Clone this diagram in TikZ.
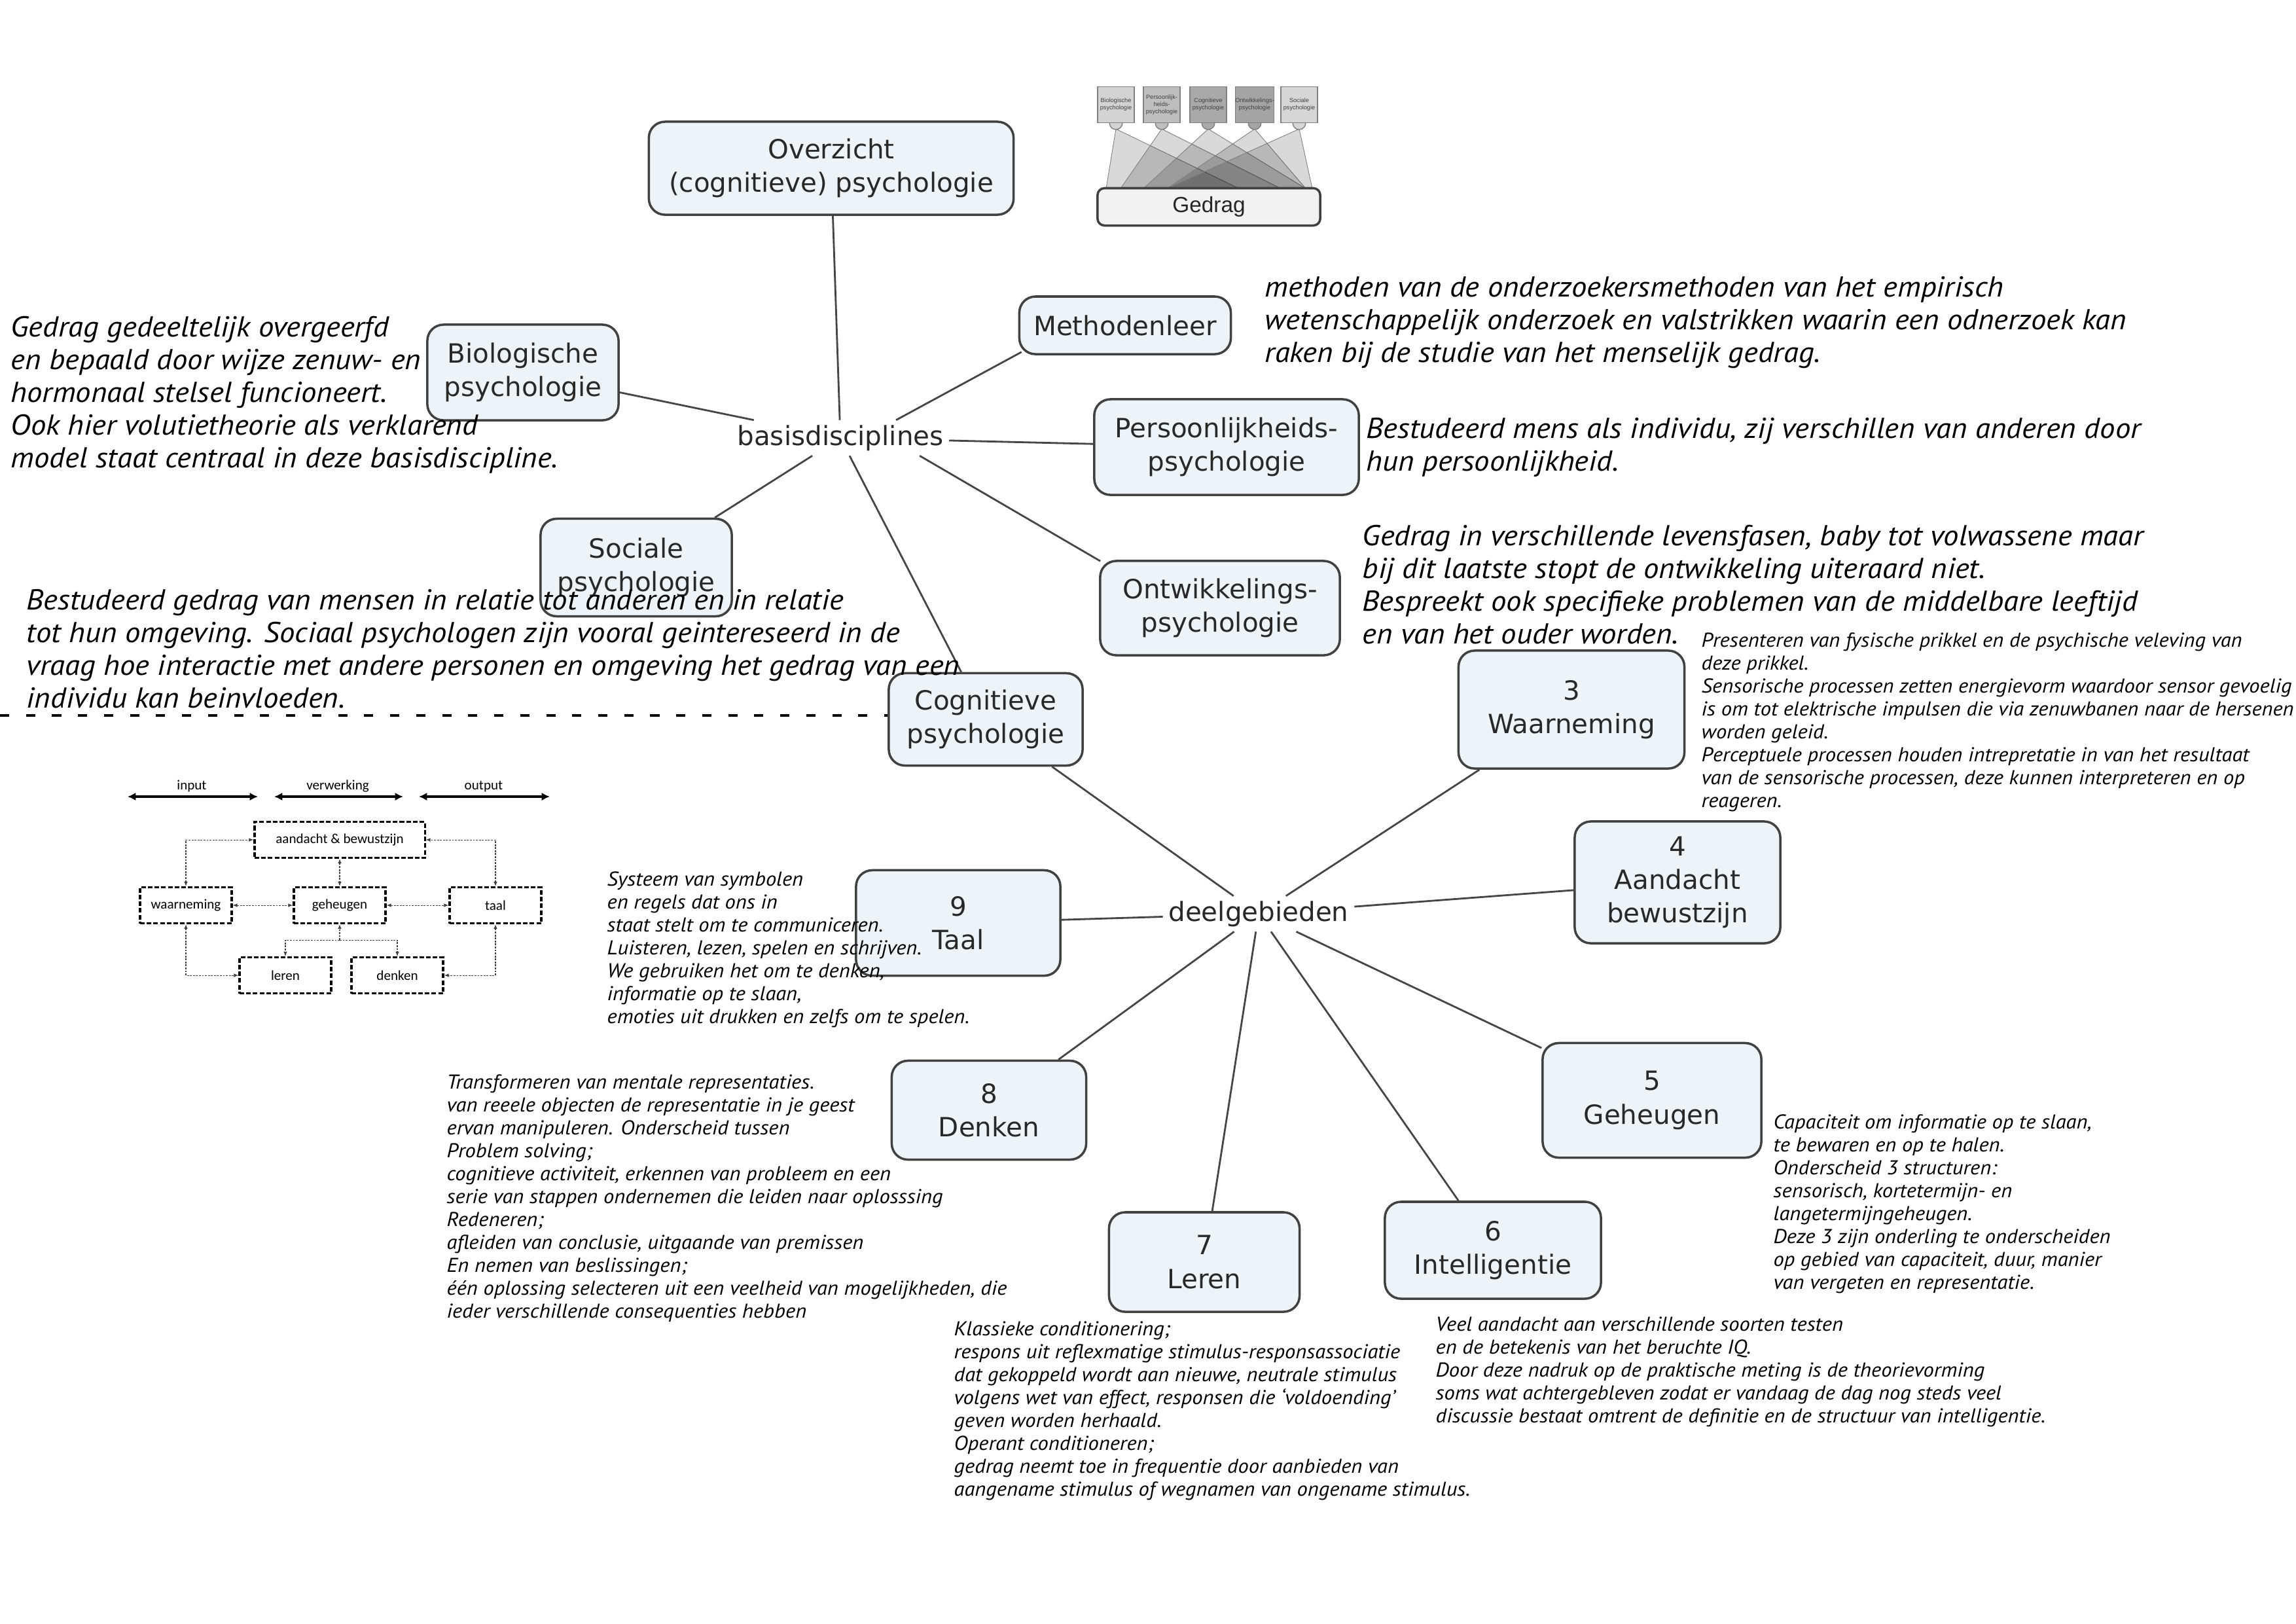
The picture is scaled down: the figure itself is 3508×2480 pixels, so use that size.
\documentclass[tikz,border=0pt]{standalone}
\usepackage{fontspec}
\setmainfont{DejaVu Sans}
\newfontfamily\annot{PT Sans}[FakeStretch=1.065]
\newfontfamily\arialf{Liberation Sans}
\newfontfamily\calib{Carlito}
\usetikzlibrary{arrows.meta}
\definecolor{boxfill}{RGB}{237,243,246}
\definecolor{boxline}{RGB}{65,65,65}
\definecolor{boxtext}{RGB}{40,40,40}
\definecolor{connc}{RGB}{70,70,70}
\definecolor{ga}{RGB}{211,211,211}
\definecolor{gb}{RGB}{190,190,190}
\definecolor{gc}{RGB}{169,169,169}
\definecolor{gd}{RGB}{164,164,164}
\definecolor{ge}{RGB}{214,214,214}
\begin{document}
\begin{tikzpicture}[x=0.01cm,y=-0.01cm,
  mbox/.style={draw=boxline, line width=1pt, fill=boxfill, rounded corners=7pt, align=center, text=boxtext, font=\fontsize{11.5}{14.6}\selectfont, inner sep=0pt},
  lbl/.style={text=boxtext, font=\fontsize{11.5}{14.6}\selectfont, inner xsep=0.08cm, inner ysep=0.07cm},
  cline/.style={draw=connc, line width=0.8pt},
  bigtxt/.style={anchor=base west, align=left, inner sep=0pt, font=\annot\itshape\fontsize{12.5}{14.2}\selectfont},
  smalltxt/.style={anchor=base west, align=left, inner sep=0pt, font=\annot\itshape\fontsize{8.7}{9.93}\selectfont},
  tbox/.style={draw=black!50, line width=0.4pt, minimum width=0.56cm, minimum height=0.55cm, align=center, inner sep=0pt, text=black!75, font=\arialf\fontsize{2.6}{3.1}\selectfont},
  beam/.style={fill=black, fill opacity=0.15, draw=black!50, line width=0.25pt},
  dbox/.style={draw=black, line width=0.9pt, dash pattern=on 2pt off 0.9pt, minimum width=1.40cm, minimum height=0.55cm, inner sep=0pt, font=\calib\fontsize{6}{7}\selectfont},
  farrow/.style={draw=black!75, line width=0.3pt, dash pattern=on 0.8pt off 0.5pt, {Latex[length=2pt,width=1.6pt]}-{Latex[length=2pt,width=1.6pt]}},
  sarrow/.style={draw=black!75, line width=0.3pt, dash pattern=on 0.8pt off 0.5pt, -{Latex[length=2pt,width=1.6pt]}},
  thickarrow/.style={draw=black, line width=1.1pt, {Latex[length=3.5pt,width=3.5pt]}-{Latex[length=3.5pt,width=3.5pt]}},
  toplbl/.style={font=\calib\fontsize{6}{7}\selectfont, inner sep=0pt}
]
\fill[white] (0,0) rectangle (3508,2480);
\useasboundingbox (0,0) rectangle (3508,2480);

% ---------- Gedrag figure (top) ----------
\filldraw[beam] (1705,197) -- (1690,288) -- (1893,288) -- cycle;
\filldraw[beam] (1775,197) -- (1712,288) -- (1957,288) -- cycle;
\filldraw[beam] (1846,197) -- (1747,288) -- (1995,288) -- cycle;
\filldraw[beam] (1917,197) -- (1783,288) -- (1995,288) -- cycle;
\filldraw[beam] (1985,197) -- (1783,288) -- (2005,288) -- cycle;
\filldraw[fill=ga, draw=black!50, line width=0.4pt] (1705,188) circle[radius=2.8pt];
\filldraw[fill=gb, draw=black!50, line width=0.4pt] (1775,188) circle[radius=2.8pt];
\filldraw[fill=gc, draw=black!50, line width=0.4pt] (1846,188) circle[radius=2.8pt];
\filldraw[fill=gd, draw=black!50, line width=0.4pt] (1917,188) circle[radius=2.8pt];
\filldraw[fill=ge, draw=black!50, line width=0.4pt] (1985,188) circle[radius=2.8pt];
\node[tbox, fill=ga] (tb1) at (1705,160) {Biologische\\psychologie};
\node[tbox, fill=gb] (tb2) at (1775,160) {Persoonlijk-\\heids-\\psychologie};
\node[tbox, fill=gc] (tb3) at (1846,160) {Cognitieve\\psychologie};
\node[tbox, fill=gd] (tb4) at (1917,160) {Ontwikkelings-\\psychologie};
\node[tbox, fill=ge] (tb5) at (1985,160) {Sociale\\psychologie};
\node[draw=black!75, line width=1pt, fill=black!5, rounded corners=3pt, minimum width=3.40cm, minimum height=0.57cm, inner sep=0pt, font=\arialf\fontsize{9.5}{11}\selectfont, text=black!85] (gedrag) at (1847,316) {Gedrag};

% ---------- main boxes ----------
\node[mbox, minimum width=5.57cm, minimum height=1.42cm] (ov) at (1270,257) {Overzicht\\(cognitieve) psychologie};
\node[mbox, minimum width=3.23cm, minimum height=0.88cm] (meth) at (1719,497) {Methodenleer};
\node[mbox, minimum width=2.92cm, minimum height=1.46cm] (bio) at (799,569) {Biologische\\psychologie};
\node[mbox, minimum width=4.04cm, minimum height=1.46cm] (pers) at (1874,683) {Persoonlijkheids-\\psychologie};
\node[mbox, minimum width=2.92cm, minimum height=1.49cm] (soc) at (972,867) {Sociale\\psychologie};
\node[mbox, minimum width=3.66cm, minimum height=1.44cm] (ontw) at (1864,929) {Ontwikkelings-\\psychologie};
\node[mbox, minimum width=2.96cm, minimum height=1.41cm] (cog) at (1506,1099) {Cognitieve\\psychologie};
\node[mbox, minimum width=3.45cm, minimum height=1.80cm] (waar) at (2401,1084) {3\\Waarneming};
\node[mbox, minimum width=3.14cm, minimum height=1.86cm] (aand) at (2563,1348) {4\\Aandacht\\bewustzijn};
\node[mbox, minimum width=3.12cm, minimum height=1.61cm] (taal) at (1464,1410) {9\\Taal};
\node[mbox, minimum width=2.97cm, minimum height=1.51cm] (denk) at (1511,1696) {8\\Denken};
\node[mbox, minimum width=3.34cm, minimum height=1.75cm] (geh) at (2524,1681) {5\\Geheugen};
\node[mbox, minimum width=2.91cm, minimum height=1.52cm] (leren) at (1840,1928) {7\\Leren};
\node[mbox, minimum width=3.30cm, minimum height=1.48cm] (intel) at (2281,1910) {6\\Intelligentie};

\node[lbl] (bas) at (1284,669) {basisdisciplines};
\node[lbl] (deel) at (1923,1396) {deelgebieden};

% ---------- connectors ----------
\draw[cline] (ov) -- (bas);
\draw[cline] (bio) -- (bas);
\draw[cline] ([xshift=0.85cm]bas.north) -- ([xshift=0.05cm,yshift=0.05cm]meth.south west);
\draw[cline] (pers) -- (bas);
\draw[cline] ([xshift=-0.45cm]bas.south east) -- ([xshift=0.02cm,yshift=-0.02cm]ontw.north west);
\draw[cline] (soc) -- (bas);
\draw[cline] (cog) -- (bas);
\draw[cline] (cog) -- (deel);
\draw[cline] (waar) -- (deel);
\draw[cline] (aand) -- (deel);
\draw[cline] (taal) -- (deel);
\draw[cline] (denk) -- (deel);
\draw[cline] (leren) -- (deel);
\draw[cline] (intel) -- (deel);
\draw[cline] (geh) -- (deel);

\coordinate (dl) at (0,1093);
\draw[black, line width=1.4pt, dash pattern=on 4pt off 7.3pt] (dl) -- (dl -| cog.west);

% ---------- bottom-left figure ----------
\coordinate (i1) at (195,1217); \coordinate (i2) at (394,1217);
\coordinate (v1) at (419,1217); \coordinate (v2) at (616,1217);
\coordinate (o1) at (640,1217); \coordinate (o2) at (840,1217);
\draw[thickarrow] (i1) -- (i2);
\draw[thickarrow] (v1) -- (v2);
\draw[thickarrow] (o1) -- (o2);
\node[toplbl] (linput) at (293,1201) {input};
\node[toplbl] (lverw) at (516,1201) {verwerking};
\node[toplbl] (loutput) at (739,1201) {output};

\node[dbox, minimum width=2.60cm] (fa) at (519,1283) {aandacht \& bewustzijn};
\node[dbox] (fw) at (284,1383) {waarneming};
\node[dbox] (fg) at (519,1383) {geheugen};
\node[dbox] (ft) at (757,1383) {taal};
\node[dbox] (fl) at (436,1490) {leren};
\node[dbox] (fd) at (607,1490) {denken};
\draw[farrow] (fw.north) |- (fa.west);
\draw[farrow] (ft.north) |- (fa.east);
\draw[farrow] (fa.south) -- (fg.north);
\draw[farrow] (fw.east) -- (fg.west);
\draw[farrow] (fg.east) -- (ft.west);
\draw[farrow] (fw.south) |- (fl.west);
\draw[farrow] (ft.south) |- (fd.east);
\coordinate (fj) at (519,1436);
\draw[sarrow] (fj) -- (fg.south);
\draw[sarrow] (fj) -| (fl.north);
\draw[sarrow] (fj) -| (fd.north);

% ---------- annotation texts (anchored at the baseline of the last line) ----------
\node[bigtxt] (tbio) at (16,714) {Gedrag gedeeltelijk overgeerfd\\en bepaald door wijze zenuw- en\\hormonaal stelsel funcioneert.\\Ook hier volutietheorie als verklarend\\model staat centraal in deze basisdiscipline.};
\node[bigtxt] (tmeth) at (1932,553) {methoden van de onderzoekersmethoden van het empirisch\\wetenschappelijk onderzoek en valstrikken waarin een odnerzoek kan\\raken bij de studie van het menselijk gedrag.};
\node[bigtxt] (tpers) at (2087,719) {Bestudeerd mens als individu, zij verschillen van anderen door\\hun persoonlijkheid.};
\node[bigtxt] (tontw) at (2081,983) {Gedrag in verschillende levensfasen, baby tot volwassene maar\\bij dit laatste stopt de ontwikkeling uiteraard niet.\\Bespreekt ook specifieke problemen van de middelbare leeftijd\\en van het ouder worden.};
\node[bigtxt] (tsoc) at (40,1081) {Bestudeerd gedrag van mensen in relatie tot anderen en in relatie\\tot hun omgeving. Sociaal psychologen zijn vooral geintereseerd in de\\vraag hoe interactie met andere personen en omgeving het gedrag van een\\individu kan beinvloeden.};

\node[smalltxt] (twaar) at (2599,1233) {Presenteren van fysische prikkel en de psychische veleving van\\deze prikkel.\\Sensorische processen zetten energievorm waardoor sensor gevoelig\\is om tot elektrische impulsen die via zenuwbanen naar de hersenen\\worden geleid.\\Perceptuele processen houden intrepretatie in van het resultaat\\van de sensorische processen, deze kunnen interpreteren en op\\reageren.};
\node[smalltxt] (ttaal) at (927,1563) {Systeem van symbolen\\en regels dat ons in\\staat stelt om te communiceren.\\Luisteren, lezen, spelen en schrijven.\\We gebruiken het om te denken,\\informatie op te slaan,\\emoties uit drukken en zelfs om te spelen.};
\node[smalltxt] (tdenk) at (682,2013) {Transformeren van mentale representaties.\\van reeele objecten de representatie in je geest\\ervan manipuleren. Onderscheid tussen\\Problem solving;\\cognitieve activiteit, erkennen van probleem en een\\serie van stappen ondernemen die leiden naar oplosssing\\Redeneren;\\afleiden van conclusie, uitgaande van premissen\\En nemen van beslissingen;\\één oplossing selecteren uit een veelheid van mogelijkheden, die\\ieder verschillende consequenties hebben};
\node[smalltxt] (tleren) at (1457,2285) {Klassieke conditionering;\\respons uit reflexmatige stimulus-responsassociatie\\dat gekoppeld wordt aan nieuwe, neutrale stimulus\\volgens wet van effect, responsen die ‘voldoending’\\geven worden herhaald.\\Operant conditioneren;\\gedrag neemt toe in frequentie door aanbieden van\\aangename stimulus of wegnamen van ongename stimulus.};
\node[smalltxt] (tintel) at (2193,2173) {Veel aandacht aan verschillende soorten testen\\en de betekenis van het beruchte IQ.\\Door deze nadruk op de praktische meting is de theorievorming\\soms wat achtergebleven zodat er vandaag de dag nog steds veel\\discussie bestaat omtrent de definitie en de structuur van intelligentie.};
\node[smalltxt] (tgeh) at (2709,1969) {Capaciteit om informatie op te slaan,\\te bewaren en op te halen.\\Onderscheid 3 structuren:\\sensorisch, kortetermijn- en\\langetermijngeheugen.\\Deze 3 zijn onderling te onderscheiden\\op gebied van capaciteit, duur, manier\\van vergeten en representatie.};
\end{tikzpicture}
\end{document}
